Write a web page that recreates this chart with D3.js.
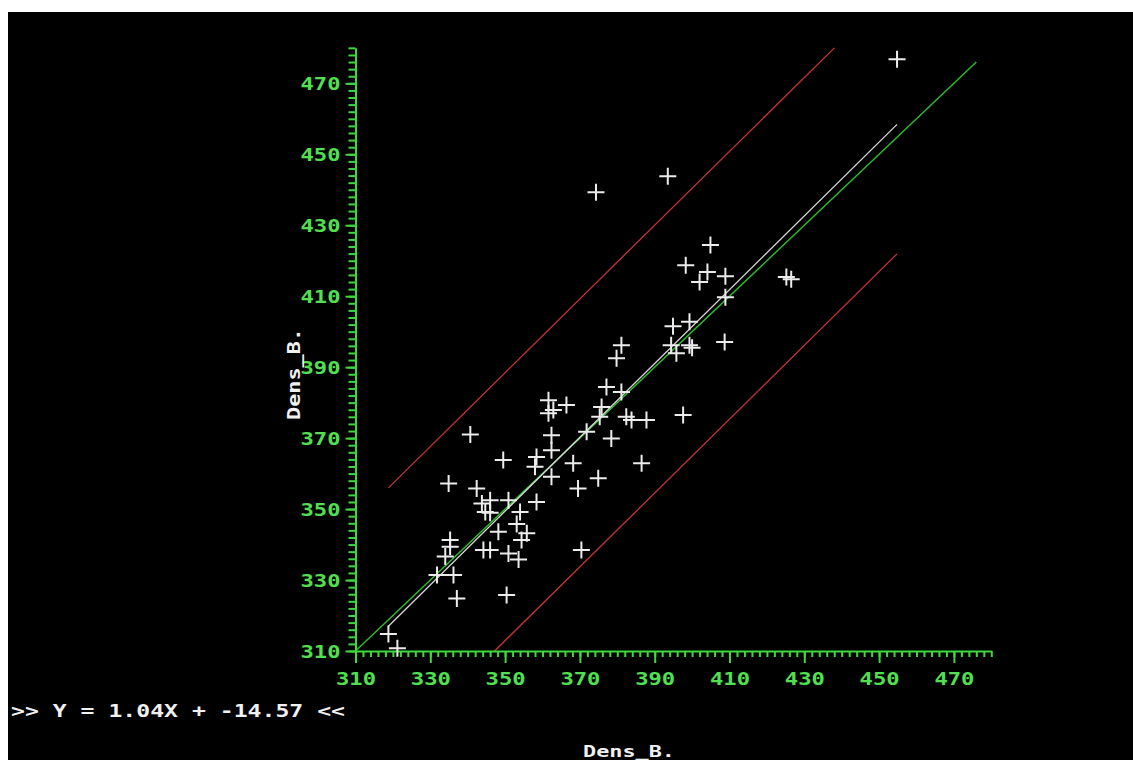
<!DOCTYPE html>
<html>
<head>
<meta charset="utf-8">
<script src="https://cdn.jsdelivr.net/npm/d3@7"></script>
<style>
  body { margin: 0; background: #fff; }
  svg { display: block; }
  text { font-family: "DejaVu Sans Mono", monospace; font-weight: bold; }
</style>
</head>
<body>
<svg width="1133" height="760"></svg>
<script>
// measured pairs (Dens_B. on both axes)
let densX = [340.7, 349.5, 334.9, 342.4, 343.8, 346.0, 350.9, 344.7, 346.0, 358.4,
  354.0, 353.1, 348.2, 355.8, 354.4, 335.3, 335.3, 334.0, 344.2, 346.0,
  350.9, 353.6, 336.2, 331.8, 337.1, 350.4, 370.4, 358.4, 358.0, 362.4,
  362.4, 362.4, 368.2, 369.5, 374.9, 371.8, 378.4, 361.6, 361.6, 362.9,
  366.4, 375.8, 375.3, 377.1, 381.1, 382.4, 383.8, 387.8, 386.5, 397.6,
  381.1, 379.8, 394.9, 399.3, 394.4, 399.3, 395.8, 408.7, 400.0, 318.8,
  321.2, 374.3, 393.5, 404.9, 398.3, 404.1, 402.0, 408.9, 408.9, 425.2,
  426.5, 454.8]
let densY = [371.0, 363.8, 357.2, 355.8, 351.6, 352.5, 352.5, 349.2, 349.0, 352.0,
  349.2, 345.8, 343.6, 343.2, 341.3, 341.3, 339.4, 336.6, 338.5, 338.5,
  337.5, 335.8, 331.4, 331.4, 324.8, 325.8, 338.5, 364.7, 361.9, 359.1,
  366.6, 370.8, 362.9, 355.8, 358.7, 371.8, 369.9, 380.7, 377.0, 377.9,
  379.3, 378.8, 376.0, 384.4, 383.0, 376.0, 375.1, 375.1, 362.9, 376.5,
  396.2, 392.5, 401.5, 402.8, 396.2, 396.2, 393.9, 397.1, 395.5, 314.8,
  310.8, 439.3, 443.8, 424.4, 418.7, 416.8, 414.0, 415.6, 409.7, 415.4,
  414.8, 476.8]

let slope = 1.04
let intercept = -14.57
let bandUp = 39
let bandDown = -36.5
let identityEnd = 476

let majorTicks = d3.range(310, 471, 20)
let minorTicks = d3.range(310, 481, 2)
let axisLabel = 'Dens_B.'
let equation = '>> Y = ' + slope.toFixed(2) + 'X + ' + intercept.toFixed(2) + ' <<'

let lo = 310, hi = 480
let x0 = 355.5, y0 = 651

let xScale = d3.scaleLinear().domain([lo, hi]).range([x0, x0 + 170 * 3.74])
let yScale = d3.scaleLinear().domain([lo, hi]).range([y0, y0 - 170 * 3.548])

let svg = d3.select('svg')
svg.append('rect')
  .attr('x', 8).attr('y', 12)
  .attr('width', 1125).attr('height', 748)
  .attr('fill', '#000')

let axisColor = '#3fd83f'
let labelColor = '#52e052'
let fit = x => slope * x + intercept

// lines
let line = d3.line()
  .x(d => xScale(d[0]))
  .y(d => yScale(d[1]))

let xMin = d3.min(densX), xMax = d3.max(densX)

svg.append('path')
  .attr('d', line([[lo, lo], [identityEnd, identityEnd]]))
  .attr('fill', 'none').attr('stroke', '#2cbf2c').attr('stroke-width', 1.4)

svg.append('path')
  .attr('d', line([[xMin, fit(xMin)], [xMax, fit(xMax)]]))
  .attr('fill', 'none').attr('stroke', '#d8d8d8').attr('stroke-width', 1.3)

// upper band, stops at top of plot
let upEnd = Math.min(xMax, (hi - intercept - bandUp) / slope)
svg.append('path')
  .attr('d', line([[xMin, fit(xMin) + bandUp], [upEnd, fit(upEnd) + bandUp]]))
  .attr('fill', 'none').attr('stroke', '#c83434').attr('stroke-width', 1.3)

// lower band, starts at bottom of plot
let downStart = Math.max(xMin, (lo - intercept - bandDown) / slope)
svg.append('path')
  .attr('d', line([[downStart, fit(downStart) + bandDown], [xMax, fit(xMax) + bandDown]]))
  .attr('fill', 'none').attr('stroke', '#c83434').attr('stroke-width', 1.3)

// axes
function styleAxis(g) {
  g.selectAll('path, line').attr('stroke', axisColor).attr('stroke-width', 2)
  g.selectAll('text')
    .attr('fill', labelColor)
    .attr('font-size', 18)
    .attr('font-family', '"DejaVu Sans Mono", monospace')
    .attr('font-weight', 'bold')
    .attr('textLength', 40)
    .attr('lengthAdjust', 'spacingAndGlyphs')
}

let xMinorAxis = d3.axisBottom(xScale).tickValues(minorTicks).tickSize(6).tickSizeOuter(0).tickFormat('')
let xMajorAxis = d3.axisBottom(xScale).tickValues(majorTicks).tickSize(12).tickSizeOuter(0).tickPadding(9)

svg.append('g')
  .attr('transform', 'translate(' + [0, y0] + ')')
  .call(xMinorAxis).call(styleAxis)
let gx = svg.append('g')
  .attr('transform', 'translate(' + [0, y0] + ')')
  .call(xMajorAxis).call(styleAxis)
gx.select('.domain').remove()
gx.selectAll('text').attr('dy', null).attr('y', 34)

let yMinorAxis = d3.axisLeft(yScale).tickValues(minorTicks).tickSize(7).tickSizeOuter(0).tickFormat('')
let yMajorAxis = d3.axisLeft(yScale).tickValues(majorTicks).tickSize(10).tickSizeOuter(0).tickPadding(5)

svg.append('g')
  .attr('transform', 'translate(' + [x0, 0] + ')')
  .call(yMinorAxis).call(styleAxis)
let gy = svg.append('g')
  .attr('transform', 'translate(' + [x0, 0] + ')')
  .call(yMajorAxis).call(styleAxis)
gy.select('.domain').remove()
gy.selectAll('text').attr('dy', null).attr('y', 6.5).attr('x', -15)

// points
svg.append('g')
  .selectAll('path')
  .data(densX)
  .join('path')
  .attr('transform', (d, i) => 'translate(' + [xScale(d), yScale(densY[i])] + ')')
  .attr('d', 'M-8.5,0H8.5M0,-8.5V8.5')
  .attr('stroke', '#ececec')
  .attr('stroke-width', 2)
  .attr('fill', 'none')

// texts
svg.append('text')
  .attr('x', 11).attr('y', 717)
  .attr('fill', '#f0f0f0')
  .attr('font-size', 18)
  .attr('textLength', equation.length * 14 - 2)
  .attr('lengthAdjust', 'spacingAndGlyphs')
  .text(equation)

svg.append('text')
  .attr('x', 583).attr('y', 757)
  .attr('fill', '#f0f0f0')
  .attr('font-size', 16)
  .attr('textLength', 92)
  .attr('lengthAdjust', 'spacingAndGlyphs')
  .text(axisLabel)

svg.append('text')
  .attr('transform', 'translate(300,420) rotate(-90)')
  .attr('fill', '#f0f0f0')
  .attr('font-size', 17)
  .attr('textLength', 92)
  .attr('lengthAdjust', 'spacingAndGlyphs')
  .text(axisLabel)
</script>
</body>
</html>
